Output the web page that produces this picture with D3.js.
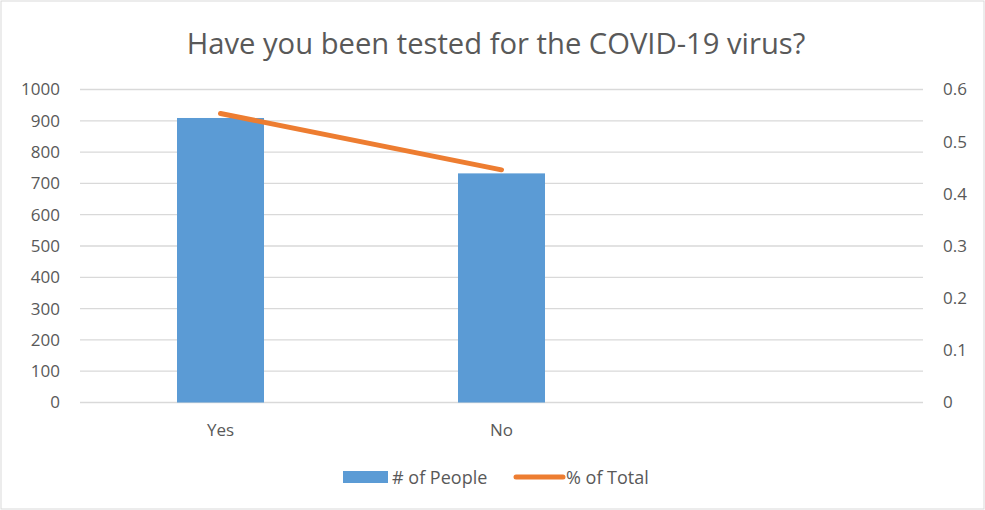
<!DOCTYPE html>
<html><head><meta charset="utf-8">
<script src="https://cdn.jsdelivr.net/npm/d3@7"></script>
<style>body{margin:0;background:#fff}svg{display:block}</style>
</head><body>
<script>
const categories = ["Yes", "No", ""];
const people = [909, 732, null];
const pctTotal = [0.554, 0.446, null];
const leftTicks = [0,100,200,300,400,500,600,700,800,900,1000];
const rightTicks = [0,0.1,0.2,0.3,0.4,0.5,0.6];
const title = "Have you been tested for the COVID-19 virus?";
const seriesNames = ["# of People", "% of Total"];

const W = 985, H = 510;
const m = {l: 80, r: 62, t: 89.5, b: 107.5};
const font = "'Open Sans', 'Liberation Sans', sans-serif";
const txt = "#595959";
const fs = 17;
const svg = d3.select("body").append("svg").attr("width", W).attr("height", H);
svg.append("rect").attr("x",1).attr("y",1).attr("width",W-2).attr("height",H-2)
  .attr("fill","#fff").attr("stroke","#d9d9d9").attr("stroke-width",1);

const x = d3.scaleBand().domain(categories.map((c,i)=>i)).range([m.l, W-m.r]).paddingInner(0).paddingOuter(0);
const y = d3.scaleLinear().domain([0,1000]).range([H-m.b, m.t]);
const y2 = d3.scaleLinear().domain([0,0.6]).range([H-m.b, m.t]);

// grid
svg.append("g").selectAll("line").data(leftTicks).join("line")
  .attr("x1", m.l).attr("x2", W-m.r).attr("y1", d=>y(d)).attr("y2", d=>y(d))
  .attr("stroke","#d9d9d9").attr("stroke-width",1.3);

// left axis
const la = svg.append("g").attr("transform",`translate(${m.l},0)`)
  .call(d3.axisLeft(y).tickValues(leftTicks).tickSize(0).tickPadding(20).tickFormat(d3.format("d")));
la.select(".domain").remove();
la.selectAll("text").attr("font-family",font).attr("font-size",fs).attr("fill",txt);

// right axis
const ra = svg.append("g").attr("transform",`translate(${W-m.r},0)`)
  .call(d3.axisRight(y2).tickValues(rightTicks).tickSize(0).tickPadding(20).tickFormat(d=>d===0?"0":d3.format(".1f")(d)));
ra.select(".domain").remove();
ra.selectAll("text").attr("font-family",font).attr("font-size",fs).attr("fill",txt);

// bottom labels
const xa = svg.append("g").attr("transform",`translate(0,${H-m.b})`)
  .call(d3.axisBottom(x).tickSize(0).tickPadding(21).tickFormat(i=>categories[i]));
xa.select(".domain").remove();
xa.selectAll("text").attr("font-family",font).attr("font-size",fs).attr("fill",txt);

// bars
const bw = 87;
svg.append("g").selectAll("rect").data(people.map((v,i)=>({v,i})).filter(d=>d.v!=null)).join("rect")
  .attr("x", d=>x(d.i)+x.bandwidth()/2-bw/2).attr("width", bw)
  .attr("y", d=>y(d.v)).attr("height", d=>y(0)-y(d.v)).attr("fill","#5b9bd5");

// line
const lineData = pctTotal.map((v,i)=>({v,i})).filter(d=>d.v!=null);
svg.append("path").datum(lineData)
  .attr("d", d3.line().x(d=>x(d.i)+x.bandwidth()/2).y(d=>y2(d.v)))
  .attr("fill","none").attr("stroke","#ed7d31").attr("stroke-width",5).attr("stroke-linecap","round");

// title
svg.append("text").attr("x", 496).attr("y", 54).attr("text-anchor","middle")
  .attr("font-family",font).attr("font-size",29.2).attr("fill",txt).text(title);

// legend
const lg = svg.append("g");
lg.append("rect").attr("x",343).attr("y",471).attr("width",45).attr("height",12).attr("fill","#5b9bd5");
lg.append("text").attr("x",392).attr("y",483.5).attr("font-family",font).attr("font-size",18).attr("fill",txt).text(seriesNames[0]);
lg.append("line").attr("x1",516).attr("x2",563).attr("y1",477).attr("y2",477)
  .attr("stroke","#ed7d31").attr("stroke-width",5).attr("stroke-linecap","round");
lg.append("text").attr("x",566).attr("y",483.5).attr("font-family",font).attr("font-size",18).attr("fill",txt).text(seriesNames[1]);
</script>
</body></html>
